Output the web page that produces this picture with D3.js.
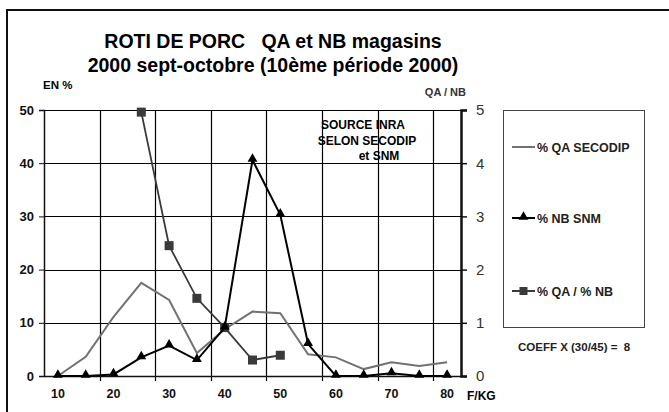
<!DOCTYPE html>
<html>
<head>
<meta charset="utf-8">
<script src="https://cdn.jsdelivr.net/npm/d3@7"></script>
<style>
  body { margin: 0; background: #fff; }
  svg { display: block; font-family: "Liberation Sans", Arial, sans-serif; }
</style>
</head>
<body>
<svg id="chart" width="669" height="412"></svg>
<script>
// Prix (F/KG)
const prix = [10, 15, 20, 25, 30, 35, 40, 45, 50, 55, 60, 65, 70, 75, 80];
// % QA SECODIP (axe gauche)
const qaSecodip = [0, 3.6, 11.1, 17.5, 14.3, 4.3, 8.8, 12.1, 11.8, 4.1, 3.5, 1.3, 2.6, 1.9, 2.6];
// % NB SNM (axe gauche)
const nbSnm = [0, 0, 0.3, 3.5, 5.7, 3.0, 9.1, 40.6, 30.3, 6.0, 0, 0, 0.5, 0, 0];
// % QA / % NB (axe droit)
const ratio = [null, null, null, 4.96, 2.45, 1.46, 0.91, 0.30, 0.39, null, null, null, null, null, null];

const leftTicks = [0, 10, 20, 30, 40, 50];
const rightTicks = [0, 1, 2, 3, 4, 5];
const xLabels = [10, 20, 30, 40, 50, 60, 70, 80];

const svg = d3.select('#chart');
const plot = { left: 44, right: 461, top: 110, bottom: 376 };
const W = plot.right - plot.left;
const H = plot.bottom - plot.top;

// cadre exterieur
svg.append('rect')
    .attr('x', 7).attr('y', 10)
    .attr('width', 680).attr('height', 420)
    .attr('fill', 'none')
    .attr('stroke', '#111')
    .attr('stroke-width', 2);

// Titre
svg.append('text')
    .attr('x', 273).attr('y', 48)
    .attr('text-anchor', 'middle')
    .style('font-size', '19.5px').style('font-weight', 'bold')
    .attr('xml:space', 'preserve')
    .text('ROTI DE PORC   QA et NB magasins');
svg.append('text')
    .attr('x', 273).attr('y', 72)
    .attr('text-anchor', 'middle')
    .style('font-size', '19.5px').style('font-weight', 'bold')
    .text('2000 sept-octobre (10ème période 2000)');

// Skalen
const x = d3.scaleBand()
    .domain(prix)
    .range([plot.left, plot.right]);

// Index-Skala fuer Kategoriegrenzen (Gitter)
const xIdx = d3.scaleLinear().domain([0, prix.length]).range([plot.left, plot.right]);

const yLeft = d3.scaleLinear().domain([0, 50]).range([plot.bottom, plot.top]);
const yRight = d3.scaleLinear().domain([0, 5]).range([plot.bottom, plot.top]);

const g = svg.append('g');

// Gitter: ein Pfad fuer alle Linien
const hVals = leftTicks.filter(d => d > 0);
const vVals = d3.range(2, prix.length, 2);
const gridPath = d3.path();
hVals.forEach(v => {
    const yy = Math.round(yLeft(v)) + 0.5;
    gridPath.moveTo(plot.left, yy);
    gridPath.lineTo(plot.right, yy);
});
vVals.forEach(v => {
    const xx = Math.round(xIdx(v)) + 0.5;
    gridPath.moveTo(xx, plot.top);
    gridPath.lineTo(xx, plot.bottom + 5);
});
g.append('path')
    .attr('d', gridPath.toString())
    .attr('fill', 'none')
    .attr('stroke', '#000')
    .attr('stroke-width', 1.2);

// Linke Achse
const axL = g.append('g')
    .attr('transform', `translate(${plot.left},0)`)
    .call(d3.axisLeft(yLeft).tickValues(leftTicks).tickSize(5).tickPadding(5));
axL.select('.domain').attr('stroke', '#111').attr('stroke-width', 1.5);
axL.selectAll('.tick line').attr('stroke', '#111');
axL.selectAll('text')
    .style('font-size', '13px').style('font-weight', 'bold')
    .style('font-family', '"Liberation Sans", Arial, sans-serif')
    .attr('fill', '#111');

// Rechte Achse
const axR = g.append('g')
    .attr('transform', `translate(${plot.right},0)`)
    .call(d3.axisRight(yRight).tickValues(rightTicks).tickSize(6).tickPadding(9)
        .tickFormat(d3.format('d')));
axR.select('.domain').attr('stroke', '#111').attr('stroke-width', 2.5);
axR.selectAll('.tick line').attr('stroke', '#111').attr('stroke-width', 1.5);
axR.selectAll('text')
    .style('font-size', '15px')
    .style('font-family', '"Liberation Sans", Arial, sans-serif')
    .attr('fill', '#333');

// X-Achse
const axX = g.append('g')
    .attr('transform', `translate(0,${plot.bottom})`)
    .call(d3.axisBottom(x).tickValues(xLabels).tickSize(0).tickPadding(13));
axX.select('.domain').attr('stroke', '#111').attr('stroke-width', 1.5);
axX.selectAll('text')
    .style('font-size', '12.5px').style('font-weight', 'bold')
    .style('font-family', '"Liberation Sans", Arial, sans-serif')
    .attr('fill', '#111');

// Achsentitel
svg.append('text').attr('x', 43).attr('y', 89)
    .style('font-size', '11.5px').style('font-weight', 'bold').text('EN %');
svg.append('text').attr('x', 466).attr('y', 96)
    .attr('text-anchor', 'end')
    .style('font-size', '11px').style('font-weight', 'bold').attr('fill', '#333').text('QA / NB');
svg.append('text').attr('x', 467).attr('y', 400)
    .style('font-size', '12px').style('font-weight', 'bold').text('F/KG');

// Quelle
const src = [['SOURCE INRA', 363, 129], ['SELON SECODIP', 367, 145], ['et SNM', 379, 160]];
svg.selectAll('text.src')
    .data(src)
    .enter().append('text')
    .attr('class', 'src')
    .attr('x', d => d[1]).attr('y', d => d[2])
    .attr('text-anchor', 'middle')
    .style('font-size', '12px').style('font-weight', 'bold')
    .text(d => d[0]);

const cx = d => x(d) + x.bandwidth() / 2;

// % QA SECODIP
const lineL = d3.line()
    .x((d, i) => cx(prix[i]))
    .y(d => yLeft(d));
g.append('path')
    .datum(qaSecodip)
    .attr('d', lineL)
    .attr('fill', 'none')
    .attr('stroke', '#727272')
    .attr('stroke-width', 2);

// % QA / % NB
const ratioPts = prix.map((p, i) => ({ p, v: ratio[i] })).filter(d => d.v !== null);
g.append('path')
    .datum(ratioPts)
    .attr('d', d3.line().x(d => cx(d.p)).y(d => yRight(d.v)))
    .attr('fill', 'none')
    .attr('stroke', '#3a3a3a')
    .attr('stroke-width', 1.8);
g.selectAll('rect.sq')
    .data(ratioPts)
    .enter().append('rect')
    .attr('class', 'sq')
    .attr('x', d => cx(d.p) - 4.5)
    .attr('y', d => yRight(d.v) - 4.5)
    .attr('width', 9).attr('height', 9)
    .attr('fill', '#3a3a3a');

// % NB SNM
g.append('path')
    .datum(nbSnm)
    .attr('d', lineL)
    .attr('fill', 'none')
    .attr('stroke', '#000')
    .attr('stroke-width', 2);
const tri = d3.symbol().type(d3.symbolTriangle).size(42);
g.selectAll('path.tri')
    .data(nbSnm)
    .enter().append('path')
    .attr('class', 'tri')
    .attr('d', tri)
    .attr('transform', (d, i) => `translate(${cx(prix[i])},${yLeft(d) - 1})`)
    .attr('fill', '#000');

// Legende
svg.append('rect')
    .attr('x', 503.5).attr('y', 110.5)
    .attr('width', 141).attr('height', 217)
    .attr('fill', '#fff')
    .attr('stroke', '#444').attr('stroke-width', 1);

const legend = [
    { label: '% QA SECODIP', y: 147, color: '#727272', marker: null },
    { label: '% NB SNM', y: 218, color: '#000', marker: 'tri' },
    { label: '% QA / % NB', y: 291, color: '#3a3a3a', marker: 'sq' }
];
const lg = svg.selectAll('g.lg').data(legend).enter().append('g').attr('class', 'lg');
lg.append('line')
    .attr('x1', 512).attr('x2', 535)
    .attr('y1', d => d.y).attr('y2', d => d.y)
    .attr('stroke', d => d.color).attr('stroke-width', 2);
lg.filter(d => d.marker === 'tri').append('path')
    .attr('d', tri)
    .attr('transform', d => `translate(523.5,${d.y - 1})`)
    .attr('fill', '#000');
lg.filter(d => d.marker === 'sq').append('rect')
    .attr('x', 519.5).attr('y', d => d.y - 4)
    .attr('width', 8).attr('height', 8)
    .attr('fill', '#3a3a3a');
lg.append('text')
    .attr('x', 537).attr('y', d => d.y + 4.5)
    .style('font-size', '12.5px').style('font-weight', 'bold')
    .attr('fill', '#222')
    .text(d => d.label);

svg.append('text').attr('x', 518).attr('y', 351)
    .attr('xml:space', 'preserve')
    .style('font-size', '11.5px').style('font-weight', 'bold')
    .attr('fill', '#222')
    .text('COEFF X (30/45) =  8');
</script>
</body>
</html>
